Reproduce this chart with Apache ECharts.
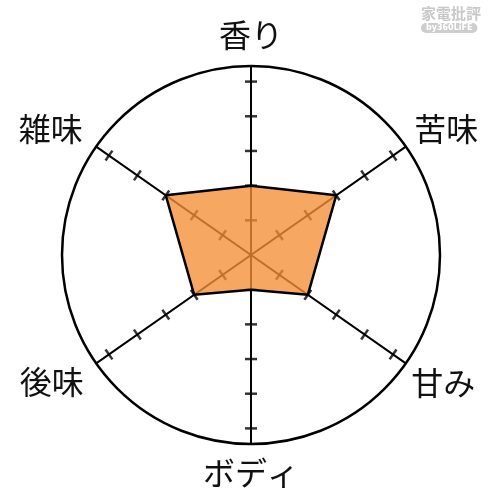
<!DOCTYPE html>
<html><head><meta charset="utf-8">
<script src="https://cdn.jsdelivr.net/npm/echarts@6/dist/echarts.min.js"></script>
<style>html,body{margin:0;padding:0;background:#fff}#c{width:500px;height:500px}</style>
</head><body><div id="c"></div>
<script>
// ---- data ----
const indicators = ['香り', '苦味', '甘み', 'ボディ', '後味', '雑味'];
const values = [2, 3, 2, 1, 2, 3];
const tickValues = [1, 2, 3, 4, 5];
const axisMax = 5.45;

// ---- layout (directions of each indicator axis, degrees counter-clockwise from east) ----
const axisAngles = [90, 35, 325, 270, 215, 145];
const CENTER = [251, 255], RADIUS = 189;
const FONT = '"Noto Sans CJK JP","Noto Sans CJK SC",sans-serif';
const labelPad = [[0,0,12,0],[0,0,0,6],[2,0,0,3],[10,0,0,0],[1,10,0,0],[0,11,0,0]];

const rich = {};
indicators.forEach((n, i) => {
  rich['l' + i] = { fontSize: 32, color: '#111', fontFamily: FONT, padding: labelPad[i] };
});

const polar = [{ center: CENTER, radius: RADIUS }];
const angleAxis = [{
  polarIndex: 0, type: 'value', min: 0, max: 360, startAngle: 0, clockwise: false,
  axisLine: { show: true, lineStyle: { color: '#000', width: 2.5 } },
  axisTick: { show: false }, splitLine: { show: false },
  axisLabel: {
    show: true, margin: 3, customValues: axisAngles,
    formatter: v => { const i = axisAngles.indexOf(v); return i < 0 ? '' : '{l' + i + '|' + indicators[i] + '}'; },
    rich: rich
  }
}];
const radiusAxis = [{ polarIndex: 0, type: 'value', min: 0, max: axisMax, show: false }];

// one radial axis line per indicator
axisAngles.forEach(a => {
  const idx = polar.length;
  polar.push({ center: CENTER, radius: RADIUS });
  angleAxis.push({ polarIndex: idx, type: 'value', min: 0, max: 360, startAngle: a, clockwise: false, show: false });
  radiusAxis.push({
    polarIndex: idx, type: 'value', min: 0, max: axisMax,
    axisLine: { show: true, lineStyle: { color: '#000', width: 2 } },
    axisTick: { show: false }, axisLabel: { show: false },
    splitLine: { show: false }, splitArea: { show: false }
  });
});

// tick marks crossing each radial axis
const tickData = [];
axisAngles.forEach(a => tickValues.forEach(t => tickData.push({ value: [t, a], symbolRotate: a })));

const polyData = values.map((v, i) => [v, axisAngles[i]]);
polyData.push(polyData[0]);

const chart = echarts.init(document.getElementById('c'));
chart.setOption({
  animation: false,
  backgroundColor: '#fff',
  title: {
    left: 421, top: 3, padding: 0,
    text: '{a|家電批評}\n{b|by360LiFE}',
    textStyle: {
      rich: {
        a: { fontSize: 15, color: '#c8c8c8', fontFamily: FONT, fontWeight: 'bold', lineHeight: 20 },
        b: { fontSize: 8, color: '#fff', fontWeight: 'bold', fontFamily: 'DejaVu Sans', backgroundColor: '#cdcdcd', borderRadius: 5, padding: [1, 5], lineHeight: 10 }
      }
    }
  },
  polar: polar,
  angleAxis: angleAxis,
  radiusAxis: radiusAxis,
  series: [{
    type: 'scatter', coordinateSystem: 'polar', polarIndex: 0,
    data: tickData, symbol: 'rect', symbolSize: [2.5, 12], z: 3,
    itemStyle: { color: '#000' }, silent: true
  }, {
    type: 'line', coordinateSystem: 'polar', polarIndex: 0,
    data: polyData, symbol: 'none', smooth: false, z: 10,
    lineStyle: { color: '#000', width: 2.5 },
    areaStyle: { color: '#F39036', opacity: 0.78 }
  }]
});
</script></body></html>
